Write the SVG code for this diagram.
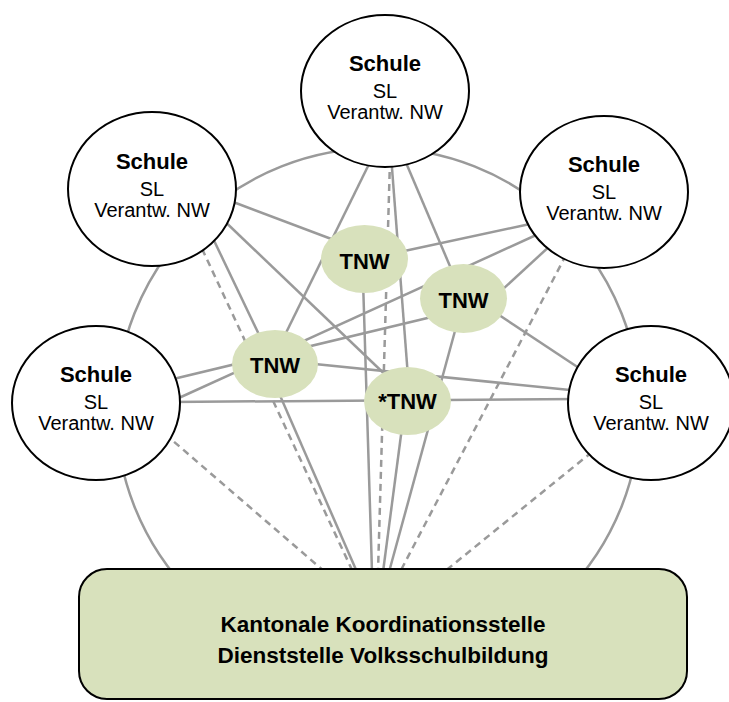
<svg xmlns="http://www.w3.org/2000/svg" width="729" height="702" viewBox="0 0 729 702">
<style>
.ring{fill:none;stroke:#9a9a9a;stroke-width:2.5}
.ln{stroke:#9a9a9a;stroke-width:2.5;fill:none}
.ds{stroke:#9a9a9a;stroke-width:2.5;fill:none;stroke-dasharray:7 5}
.school{fill:#fff;stroke:#000;stroke-width:2}
.tnw{fill:#d8e1bc;stroke:none}
.box{fill:#d8e1bc;stroke:#000;stroke-width:2}
text{font-family:"Liberation Sans",Arial,sans-serif;text-anchor:middle;fill:#000}
.t1{font-size:22px;font-weight:bold}
.t2{font-size:20px}
.t3{font-size:22px;font-weight:bold}
.t4{font-size:22.5px;font-weight:bold}
</style>
<rect width="729" height="702" fill="#fff"/>
<circle class="ring" cx="378" cy="410" r="262"/>
<g id="connectors">
<line class="ln" x1="220" y1="197" x2="350" y2="246"/>
<line class="ln" x1="215" y1="212" x2="395" y2="384"/>
<line class="ln" x1="208" y1="228" x2="264" y2="345"/>
<line class="ln" x1="165" y1="381" x2="440" y2="315"/>
<line class="ln" x1="170" y1="402" x2="545" y2="231"/>
<line class="ln" x1="170" y1="402" x2="580" y2="399"/>
<line class="ln" x1="372" y1="158" x2="280" y2="345"/>
<line class="ln" x1="391" y1="155" x2="409" y2="390"/>
<line class="ln" x1="404" y1="158" x2="455" y2="278"/>
<line class="ln" x1="530" y1="224" x2="395" y2="253"/>
<line class="ln" x1="552" y1="244" x2="490" y2="301"/>
<line class="ln" x1="585" y1="372" x2="490" y2="309"/>
<line class="ln" x1="305" y1="363" x2="580" y2="391"/>
<line class="ln" x1="275" y1="384" x2="357" y2="572"/>
<line class="ln" x1="363" y1="280" x2="372" y2="572"/>
<line class="ln" x1="403" y1="420" x2="383" y2="572"/>
<line class="ln" x1="458" y1="320" x2="389" y2="572"/>
<line class="ds" x1="197" y1="238" x2="353" y2="572"/>
<line class="ds" x1="165" y1="434" x2="325" y2="572"/>
<line class="ds" x1="390" y1="160" x2="378" y2="572"/>
<line class="ds" x1="566" y1="255" x2="400" y2="572"/>
<line class="ds" x1="592" y1="452" x2="444" y2="572"/>
</g>
<g id="tnw1"><ellipse class="tnw" cx="364.5" cy="259" rx="43.5" ry="34"/><text class="t3" x="364.5" y="269">TNW</text></g>
<g id="tnw2"><ellipse class="tnw" cx="463.5" cy="298.5" rx="43.5" ry="34.5"/><text class="t3" x="463.5" y="308">TNW</text></g>
<g id="tnw3"><ellipse class="tnw" cx="275" cy="364" rx="43" ry="34"/><text class="t3" x="275" y="373">TNW</text></g>
<g id="tnw4"><ellipse class="tnw" cx="407.5" cy="401" rx="43.5" ry="34"/><text class="t3" x="407.5" y="409">*TNW</text></g>
<g id="school-top"><ellipse class="school" cx="385" cy="91" rx="84" ry="76"/><text class="t1" x="385" y="71">Schule</text><text class="t2" x="385" y="98">SL</text><text class="t2" x="385" y="119">Verantw. NW</text></g>
<g id="school-lefttop"><ellipse class="school" cx="152" cy="189" rx="84" ry="77"/><text class="t1" x="152" y="169">Schule</text><text class="t2" x="152" y="196">SL</text><text class="t2" x="152" y="217">Verantw. NW</text></g>
<g id="school-righttop"><ellipse class="school" cx="604" cy="192" rx="84" ry="76"/><text class="t1" x="604" y="172">Schule</text><text class="t2" x="604" y="199">SL</text><text class="t2" x="604" y="220">Verantw. NW</text></g>
<g id="school-leftbottom"><ellipse class="school" cx="96" cy="403" rx="84" ry="77"/><text class="t1" x="96" y="382">Schule</text><text class="t2" x="96" y="409">SL</text><text class="t2" x="96" y="430">Verantw. NW</text></g>
<g id="school-rightbottom"><ellipse class="school" cx="651" cy="403" rx="83" ry="77"/><text class="t1" x="651" y="382">Schule</text><text class="t2" x="651" y="409">SL</text><text class="t2" x="651" y="430">Verantw. NW</text></g>
<g id="kanton"><rect class="box" x="79" y="569" width="608" height="130" rx="28" ry="28"/><text class="t4" x="383" y="632">Kantonale Koordinationsstelle</text><text class="t4" x="383" y="663">Dienststelle Volksschulbildung</text></g>
</svg>
